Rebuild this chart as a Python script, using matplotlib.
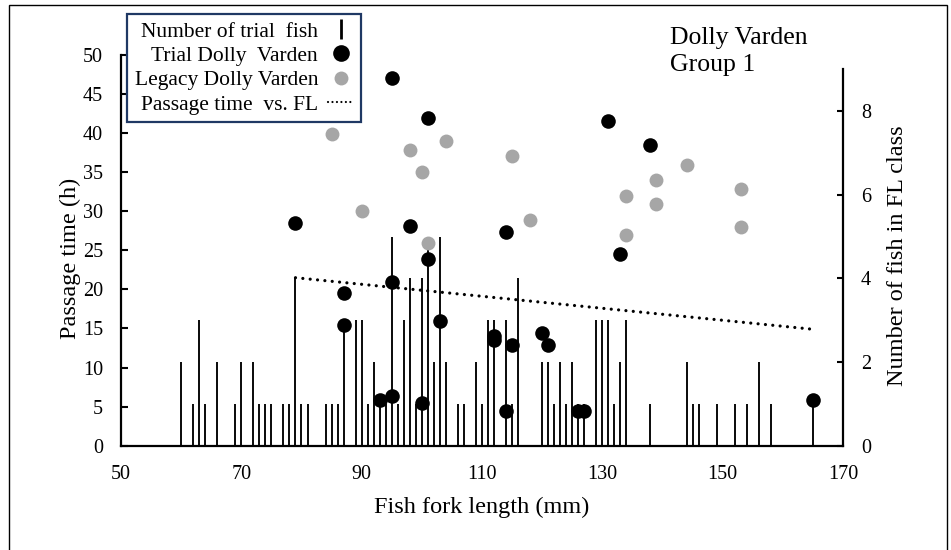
import numpy as np
import matplotlib
matplotlib.use("Agg")
import matplotlib.pyplot as plt
from matplotlib.lines import Line2D
from matplotlib.patches import Rectangle

plt.rcParams['font.family'] = ['Liberation Serif', 'DejaVu Serif']

# number of trial fish per fork length class (right axis)
bar_fl = [60, 62, 63, 64, 66, 69, 70, 72, 73, 74, 75, 77, 78, 79, 80, 81, 84, 85, 86, 87,
          89, 90, 91, 92, 93, 94, 95, 96, 97, 98, 99, 100, 101, 102, 103, 104, 106, 107,
          109, 110, 111, 112, 114, 115, 116, 120, 121, 122, 123, 124, 125, 126, 127,
          129, 130, 131, 132, 133, 134, 138, 144, 145, 146, 149, 152, 154, 156, 158, 165]
bar_n = [2, 1, 3, 1, 2, 1, 2, 2, 1, 1, 1, 1, 1, 4, 1, 1, 1, 1, 1, 3,
         3, 3, 1, 2, 1, 1, 5, 1, 3, 4, 1, 4, 5, 2, 5, 2, 1, 1,
         2, 1, 3, 3, 3, 1, 4, 2, 2, 1, 2, 1, 2, 1, 1,
         3, 3, 3, 1, 2, 3, 1, 2, 1, 1, 1, 1, 1, 2, 1, 1]

# trial Dolly Varden passage times
trial_fl = [95, 101, 79, 98, 114, 131, 138, 133, 87, 87, 95, 101, 103, 93, 95, 100,
            112, 112, 115, 114, 120, 121, 126, 127, 165]
trial_h = [47.1, 42.0, 28.5, 28.1, 27.4, 41.5, 38.5, 24.5, 19.5, 15.4, 21.0, 23.9, 16.0,
           5.9, 6.4, 5.5, 14.0, 13.5, 12.9, 4.5, 14.4, 12.9, 4.5, 4.5, 5.9]

# legacy Dolly Varden passage times
legacy_fl = [85, 90, 98, 100, 104, 101, 115, 118, 134, 134, 139, 139, 144, 153, 153]
legacy_h = [39.9, 30.0, 37.9, 35.0, 39.0, 25.9, 37.1, 28.9, 32.0, 27.0, 34.0, 30.9,
            35.9, 32.9, 28.0]

# passage time vs FL trend line
trend_fl = [79, 165]
trend_h = [21.5, 14.9]

fig = plt.figure(figsize=(9.51, 5.5), dpi=100)
ax = fig.add_axes([121/951, 1 - 445.7/550, 722/951, 390.7/550])
ax2 = ax.twinx()
ax.set_zorder(ax2.get_zorder() + 1)
ax.patch.set_visible(False)

ax2.vlines(bar_fl, 0, bar_n, color='black', lw=1.35)
ax2.set_ylim(0, 9 * 390.7 / 376.4)
ax2.set_yticks([0, 2, 4, 6, 8])
ax2.spines['right'].set_bounds(0, 9)

ax.plot(trend_fl, trend_h, color='black', lw=2.3, ls=(0, (0.01, 2.3)),
        dash_capstyle='round')
ax.plot(legacy_fl, legacy_h, 'o', color='#a6a6a6', ms=10, mew=0)
ax.plot(trial_fl, trial_h, 'o', color='black', ms=10.5, mew=0)

ax.set_xlim(50, 170)
ax.set_ylim(0, 50)
ax.set_xticks(np.arange(50, 171, 20))
ax.set_yticks(np.arange(0, 51, 5))

for a in (ax, ax2):
    for s in a.spines.values():
        s.set_linewidth(1.6)
    a.spines['top'].set_visible(False)
ax.spines['right'].set_visible(False)
ax2.spines['left'].set_visible(False)
ax2.spines['bottom'].set_visible(False)

ax.tick_params(axis='y', direction='in', length=5, width=1.5, pad=13, labelsize=14.5)
ax.tick_params(axis='x', length=0, pad=14, labelsize=14.5)
ax2.tick_params(axis='y', direction='in', length=4.5, width=1.5, pad=13, labelsize=14.5)

ax.set_xlabel('Fish fork length (mm)', fontsize=17.5)
ax.xaxis.set_label_coords(0.5, -0.131)
ax.set_ylabel('Passage time (h)', fontsize=17.5)
ax.yaxis.set_label_coords(-0.056, 0.48)
ax2.set_ylabel('Number of fish in FL class', fontsize=17.5)
ax2.yaxis.set_label_coords(1.061, 0.486)

fig.text(670/951, 1 - 27/550, 'Dolly Varden\nGroup 1', fontsize=18.5, va='top',
         ha='left', linespacing=1.3)

handles = [
    Line2D([], [], ls='none', marker='|', color='black', ms=14, mew=2),
    Line2D([], [], ls='none', marker='o', color='black', ms=12, mew=0),
    Line2D([], [], ls='none', marker='o', color='#a6a6a6', ms=10, mew=0),
    Line2D([], [], color='black', lw=1.6, ls=(0, (0.01, 2.0)), dash_capstyle='round'),
]
labels = ['Number of trial  fish', 'Trial Dolly  Varden', 'Legacy Dolly Varden',
          'Passage time  vs. FL']
leg = ax.legend(handles, labels, loc='upper left', bbox_to_anchor=(127/951, 1 - 14/550),
                bbox_transform=fig.transFigure, borderaxespad=0, markerfirst=False,
                fancybox=False, framealpha=1, edgecolor='#1f3864', fontsize=15.5,
                handlelength=1.2, handletextpad=0.45, labelspacing=0.2,
                borderpad=0.35)
leg.get_frame().set_linewidth(1.6)

fig.patches.append(Rectangle((9/951, -0.05), 938/951, 1.05 - 5/550, transform=fig.transFigure,
                             fill=False, edgecolor='black', lw=1.0))

fig.savefig('out.png', dpi=100)
